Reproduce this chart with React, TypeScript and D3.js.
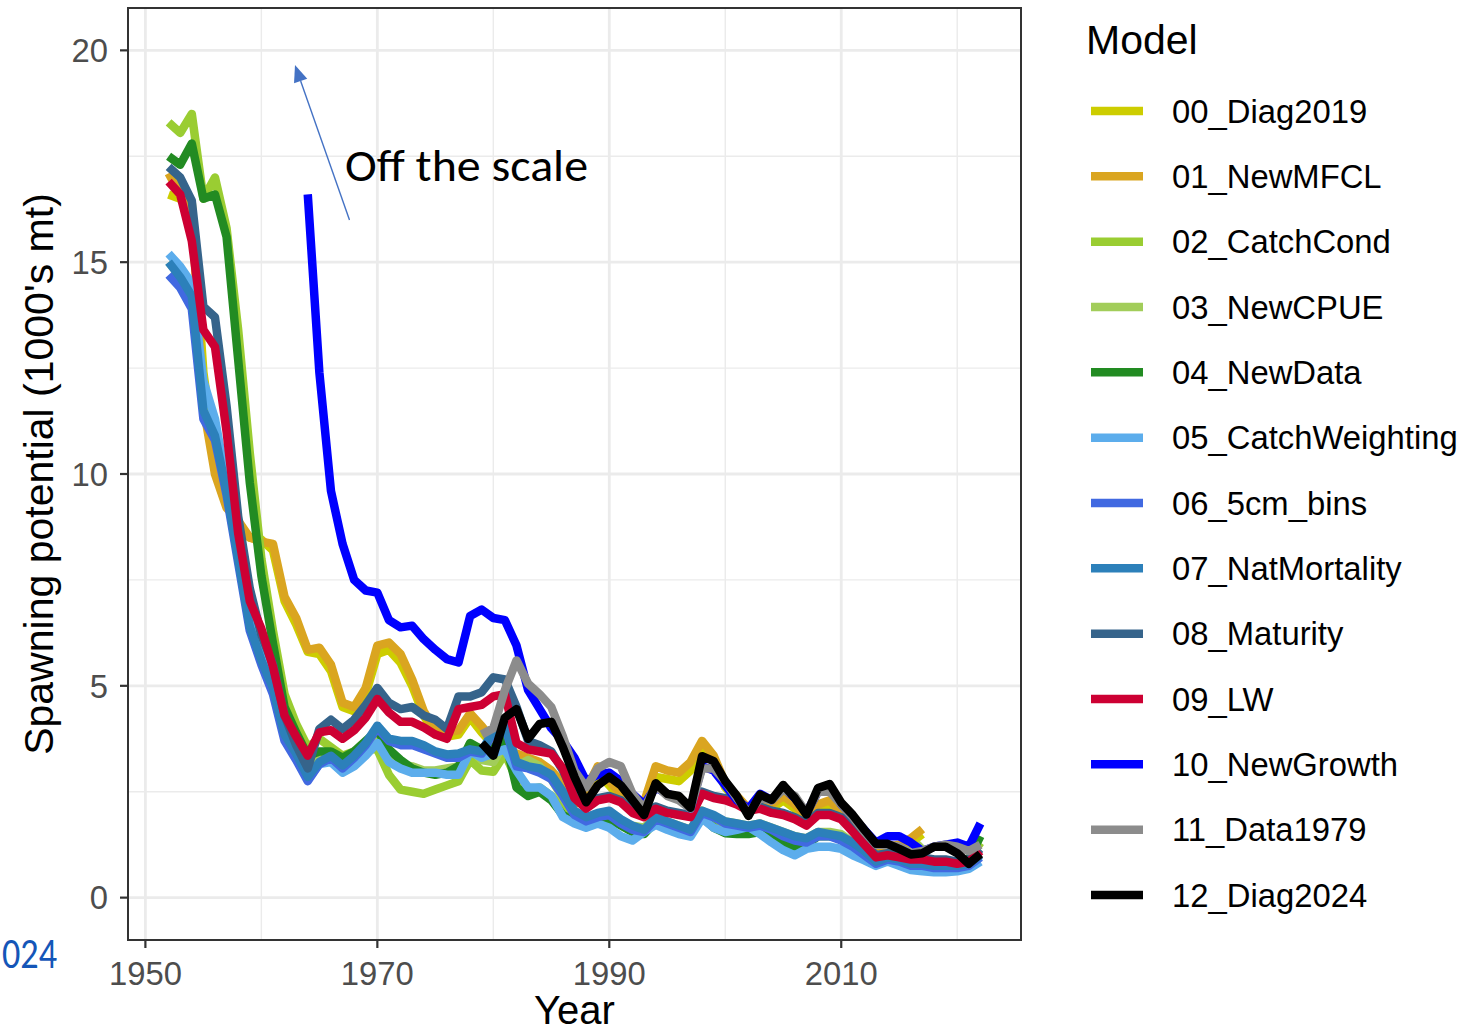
import React from 'react';
import * as d3 from 'd3';

// Spawning potential (1000's mt) by model run, 1952-2022
const years: number[] = d3.range(1952, 2023);

const modelNames = [
  '00_Diag2019', '01_NewMFCL', '02_CatchCond', '03_NewCPUE', '04_NewData',
  '05_CatchWeighting', '06_5cm_bins', '07_NatMortality', '08_Maturity',
  '09_LW', '10_NewGrowth', '11_Data1979', '12_Diag2024',
];

const modelColours = [
  '#CDCD00', '#DAA520', '#9ACD32', '#A2CD5A', '#228B22',
  '#5CADEC', '#4169E1', '#2C80BA', '#36648B',
  '#CD0033', '#0000FF', '#8C8C8C', '#000000',
];

const N = null;

const diag2019 = [16.6, 16.5, 16.4, 12.4, 10.4, 9.4, 8.7, 8.5, 8.45, 8.2,
  7.0, 6.45, 5.8, 5.75, 5.35, 4.5, 4.4, 4.8, 5.75, 5.85,
  5.55, 5.0, 4.3, 3.85, 3.8, 3.85, 4.25, 3.9, 3.6, 3.4,
  3.3, 3.2, 3.1, 2.9, 2.6, 2.2, 2.45, 2.95, 2.65, 2.35,
  2.1, 2.1, 2.85, 2.8, 2.75, 3.0, 3.5, 3.25, 2.6, 2.3,
  2.0, 2.2, 2.1, 2.3, 2.1, 1.8, 2.1, 2.2, 1.9, 1.6,
  1.4, 1.15, 1.15, 1.15, 1.3, 1.5, N, N, N, N,
  N];

const newMFCL = [17.1, 16.6, 16.2, 11.6, 10.0, 9.2, 8.9, 8.5, 8.4, 8.35,
  7.1, 6.6, 5.85, 5.9, 5.5, 4.6, 4.5, 4.95, 5.95, 6.02,
  5.75, 5.15, 4.4, 3.95, 3.9, 3.95, 4.35, 4.05, 3.7, 3.5,
  3.4, 3.3, 3.2, 3.0, 2.7, 2.3, 2.55, 3.1, 2.75, 2.45,
  2.2, 2.25, 3.1, 3.0, 2.95, 3.2, 3.7, 3.35, 2.7, 2.4,
  2.1, 2.3, 2.2, 2.4, 2.2, 1.9, 2.2, 2.3, 2.0, 1.7,
  1.45, 1.2, 1.2, 1.25, 1.4, 1.62, N, N, N, N,
  N];

const catchCond = [18.3, 18.05, 18.5, 16.5, 17.0, 15.8, 13.4, 10.5, 8.0, 6.3,
  4.8, 4.1, 3.55, 3.75, 3.55, 3.35, 3.45, 3.5, 3.5, 2.9,
  2.55, 2.5, 2.45, 2.55, 2.65, 2.75, 3.25, 3.0, 2.97, 3.4,
  2.8, 2.55, 2.6, 2.4, 2.1, 1.85, 1.8, 1.95, 1.9, 1.75,
  1.65, 1.6, 1.85, 1.75, 1.65, 1.6, 2.0, 1.85, 1.75, 1.7,
  1.65, 1.7, 1.6, 1.5, 1.4, 1.35, 1.5, 1.5, 1.45, 1.25,
  1.05, 0.9, 0.95, 0.9, 0.85, 0.85, 0.85, 0.85, 0.85, 0.9,
  1.3];

const newCPUE = [15.0, 14.7, 14.2, 11.8, 11.0, 9.8, 8.2, 6.6, 5.8, 5.0,
  3.9, 3.4, 2.95, 3.35, 3.45, 3.2, 3.35, 3.6, 3.9, 3.4,
  3.15, 3.1, 3.0, 3.0, 3.05, 3.1, 3.5, 3.25, 3.2, 3.65,
  3.1, 3.25, 3.1, 2.8, 2.35, 2.0, 1.85, 1.95, 1.95, 1.8,
  1.7, 1.65, 1.9, 1.8, 1.7, 1.6, 2.05, 1.9, 1.8, 1.75,
  1.7, 1.75, 1.65, 1.55, 1.45, 1.4, 1.55, 1.55, 1.5, 1.3,
  1.1, 0.9, 0.95, 0.95, 1.0, 1.28, N, N, N, N,
  N];

const newData = [17.5, 17.3, 17.8, 16.5, 16.6, 15.6, 12.7, 9.8, 7.6, 6.0,
  4.5, 3.9, 3.35, 3.45, 3.45, 3.3, 3.45, 3.7, 3.95, 3.5,
  3.25, 3.05, 2.95, 2.9, 2.95, 3.1, 3.65, 3.5, 3.55, 3.75,
  2.6, 2.4, 2.5, 2.3, 1.95, 1.8, 1.75, 1.9, 1.85, 1.7,
  1.55, 1.5, 1.8, 1.7, 1.6, 1.5, 1.9, 1.65, 1.52, 1.5,
  1.5, 1.55, 1.45, 1.3, 1.2, 1.25, 1.45, 1.45, 1.4, 1.2,
  1.0, 0.85, 0.9, 0.85, 0.8, 0.8, 0.8, 0.8, 0.8, 0.9,
  1.45];

const catchWeighting = [15.2, 14.9, 14.5, 12.2, 11.3, 9.8, 8.1, 6.5, 5.7, 4.9,
  3.8, 3.3, 2.8, 3.15, 3.2, 2.95, 3.1, 3.35, 3.65, 3.2,
  3.05, 2.95, 2.95, 2.95, 2.9, 2.9, 3.45, 3.3, 3.4, 3.5,
  3.0, 2.6, 2.6, 2.4, 1.9, 1.75, 1.65, 1.75, 1.65, 1.45,
  1.35, 1.55, 1.72, 1.6, 1.5, 1.44, 1.87, 1.65, 1.55, 1.6,
  1.67, 1.5, 1.3, 1.12, 1.0, 1.15, 1.2, 1.2, 1.15, 1.0,
  0.88, 0.75, 0.85, 0.75, 0.65, 0.62, 0.6, 0.6, 0.62, 0.68,
  0.85];

const bins5cm = [14.7, 14.4, 13.9, 11.3, 10.8, 9.5, 7.9, 6.3, 5.5, 4.8,
  3.7, 3.25, 2.75, 3.15, 3.3, 3.05, 3.3, 3.6, 4.0, 3.7,
  3.6, 3.6, 3.5, 3.4, 3.3, 3.3, 3.45, 3.4, 3.9, 4.05,
  3.1, 3.05, 2.95, 2.8, 2.4, 1.95, 1.8, 1.9, 1.95, 1.75,
  1.6, 1.55, 1.85, 1.75, 1.65, 1.55, 2.0, 1.9, 1.75, 1.7,
  1.65, 1.7, 1.6, 1.45, 1.35, 1.3, 1.45, 1.45, 1.35, 1.2,
  1.0, 0.8, 0.9, 0.85, 0.75, 0.75, 0.7, 0.7, 0.7, 0.75,
  0.95];

const natMortality = [15.0, 14.65, 14.2, 11.5, 10.9, 9.6, 8.0, 6.4, 5.6, 4.95,
  3.85, 3.4, 2.85, 3.2, 3.35, 3.12, 3.35, 3.65, 4.06, 3.75,
  3.7, 3.7, 3.6, 3.45, 3.38, 3.4, 3.5, 3.45, 3.95, 4.1,
  3.2, 3.1, 3.05, 2.9, 2.5, 2.05, 1.9, 2.0, 2.05, 1.85,
  1.7, 1.6, 1.9, 1.8, 1.7, 1.6, 2.05, 1.95, 1.8, 1.75,
  1.7, 1.75, 1.65, 1.55, 1.45, 1.4, 1.55, 1.5, 1.45, 1.3,
  1.1, 0.85, 0.95, 0.9, 0.8, 0.8, 0.75, 0.75, 0.75, 0.8,
  1.0];

const maturity = [17.25, 17.0, 16.45, 13.95, 13.7, 11.6, 9.0, 7.3, 6.2, 5.5,
  4.3, 3.6, 3.05, 3.98, 4.2, 3.98, 4.2, 4.55, 4.95, 4.6,
  4.45, 4.5, 4.3, 4.2, 3.98, 4.75, 4.75, 4.85, 5.2, 5.15,
  4.5, 3.7, 3.6, 3.45, 3.0, 2.4, 2.15, 2.35, 2.4, 2.3,
  2.05, 1.95, 2.15, 2.05, 2.0, 1.95, 2.5, 2.4, 2.35, 2.25,
  2.1, 2.15, 2.05, 2.0, 1.9, 1.75, 2.0, 2.0, 1.9, 1.6,
  1.3, 1.0, 1.05, 1.0, 0.95, 0.95, 0.9, 0.9, 0.85, 0.9,
  1.15];

const lengthWeight = [16.9, 16.6, 15.5, 13.4, 13.0, 11.0, 8.6, 7.0, 6.35, 5.45,
  4.3, 3.8, 3.35, 3.9, 3.95, 3.75, 3.95, 4.25, 4.69, 4.37,
  4.15, 4.15, 4.02, 3.85, 3.75, 4.45, 4.5, 4.55, 4.75, 4.8,
  3.65, 3.5, 3.45, 3.4, 3.05, 2.35, 2.1, 2.3, 2.35, 2.25,
  2.0, 1.9, 2.1, 2.0, 1.95, 1.9, 2.45, 2.35, 2.3, 2.2,
  2.05, 2.1, 2.0, 1.95, 1.85, 1.7, 1.95, 1.95, 1.85, 1.55,
  1.25, 0.95, 1.0, 0.95, 0.9, 0.9, 0.85, 0.85, 0.8, 0.85,
  1.1];

const newGrowth = [N, N, N, N, N, N, N, N, N, N,
  N, N, 16.6, 12.4, 9.6, 8.35, 7.5, 7.25, 7.2, 6.55,
  6.38, 6.42, 6.1, 5.85, 5.63, 5.55, 6.65, 6.8, 6.6, 6.55,
  5.95, 4.9, 4.45, 4.0, 3.7, 3.3, 2.75, 2.9, 2.95, 2.75,
  2.45, 2.2, 2.6, 2.45, 2.35, 2.1, 3.1, 3.0, 2.65, 2.3,
  2.1, 2.45, 2.3, 2.6, 2.35, 2.0, 2.5, 2.65, 2.2, 1.9,
  1.6, 1.3, 1.45, 1.45, 1.3, 1.1, 1.2, 1.25, 1.3, 1.2,
  1.75];

const data1979 = [N, N, N, N, N, N, N, N, N, N,
  N, N, N, N, N, N, N, N, N, N,
  N, N, N, N, N, N, N, 3.85, 4.0, 4.9,
  5.6, 5.05, 4.8, 4.5, 3.8, 3.0, 2.6, 3.05, 3.2, 3.1,
  2.45, 2.1, 2.65, 2.4, 2.3, 2.1, 3.05, 3.05, 2.75, 2.35,
  2.0, 2.35, 2.3, 2.55, 2.4, 2.0, 2.5, 2.5, 2.2, 1.9,
  1.55, 1.25, 1.25, 1.2, 1.05, 1.1, 1.2, 1.25, 1.2, 1.1,
  1.25];

const diag2024 = [N, N, N, N, N, N, N, N, N, N,
  N, N, N, N, N, N, N, N, N, N,
  N, N, N, N, N, N, N, 3.65, 3.35, 4.25,
  4.45, 3.75, 4.1, 4.15, 3.55, 2.85, 2.25, 2.65, 2.85, 2.65,
  2.3, 1.95, 2.7, 2.45, 2.4, 2.12, 3.34, 3.22, 2.75, 2.4,
  1.93, 2.43, 2.31, 2.66, 2.35, 1.96, 2.59, 2.68, 2.24, 1.95,
  1.6, 1.27, 1.27, 1.15, 1.02, 1.05, 1.2, 1.2, 1.05, 0.8,
  1.03];

const seriesValues: (number | null)[][] = [
  diag2019, newMFCL, catchCond, newCPUE, newData, catchWeighting, bins5cm,
  natMortality, maturity, lengthWeight, newGrowth, data1979, diag2024,
];

const xMajorTicks = [1950, 1970, 1990, 2010];
const xMinorTicks = [1960, 1980, 2000, 2020];
const yMajorTicks = [0, 5, 10, 15, 20];
const yMinorTicks = [2.5, 7.5, 12.5, 17.5];

const W = 1473;
const H = 1032;
const panel = { left: 128, right: 1021, top: 8, bottom: 940 };
const FONT = '"Liberation Sans", Arial, Helvetica, sans-serif';
const NOTE_FONT = 'Carlito, Lato, "Open Sans", sans-serif';

export default function App() {
  const x = d3.scaleLinear().domain([1948.5, 2025.5]).range([panel.left, panel.right]);
  const y = d3.scaleLinear().domain([-1, 21]).range([panel.bottom, panel.top]);

  const line = d3
    .line<[number, number | null]>()
    .defined((d) => d[1] != null)
    .x((d) => x(d[0]))
    .y((d) => y(d[1] as number));

  const legendTop = 111;
  const legendStep = 65.33;

  // Annotation arrow pointing up out of the panel
  const tail: [number, number] = [349.5, 220];
  const tip: [number, number] = [295, 65];
  const dx = tip[0] - tail[0];
  const dy = tip[1] - tail[1];
  const len = Math.hypot(dx, dy);
  const ux = dx / len;
  const uy = dy / len;
  const headLen = 17;
  const headHalf = 7;
  const bx = tip[0] - ux * headLen;
  const by = tip[1] - uy * headLen;
  const head = [
    [tip[0], tip[1]],
    [bx - uy * headHalf, by + ux * headHalf],
    [bx + uy * headHalf, by - ux * headHalf],
  ]
    .map((p) => p.join(','))
    .join(' ');

  return (
    <svg
      width={W}
      height={H}
      viewBox={`0 0 ${W} ${H}`}
      style={{ position: 'absolute', left: 0, top: 0, background: '#ffffff' }}
    >
      <defs>
        <clipPath id="panel-clip">
          <rect
            x={panel.left}
            y={panel.top}
            width={panel.right - panel.left}
            height={panel.bottom - panel.top}
          />
        </clipPath>
      </defs>
      <rect x={0} y={0} width={W} height={H} fill="#ffffff" />

      {/* grid */}
      <g stroke="#EBEBEB" fill="none">
        {xMinorTicks.map((t) => (
          <line key={`xm${t}`} x1={x(t)} x2={x(t)} y1={panel.top} y2={panel.bottom} strokeWidth={1.4} />
        ))}
        {yMinorTicks.map((t) => (
          <line key={`ym${t}`} x1={panel.left} x2={panel.right} y1={y(t)} y2={y(t)} strokeWidth={1.4} />
        ))}
        {xMajorTicks.map((t) => (
          <line key={`xM${t}`} x1={x(t)} x2={x(t)} y1={panel.top} y2={panel.bottom} strokeWidth={2.8} />
        ))}
        {yMajorTicks.map((t) => (
          <line key={`yM${t}`} x1={panel.left} x2={panel.right} y1={y(t)} y2={y(t)} strokeWidth={2.8} />
        ))}
      </g>

      {/* series */}
      <g clipPath="url(#panel-clip)" fill="none" strokeLinejoin="round" strokeLinecap="butt">
        {seriesValues.map((vals, i) => (
          <path
            key={modelNames[i]}
            d={line(years.map((yr, j) => [yr, vals[j]] as [number, number | null])) || ''}
            stroke={modelColours[i]}
            strokeWidth={8.5}
          />
        ))}
      </g>

      {/* panel border */}
      <rect
        x={panel.left}
        y={panel.top}
        width={panel.right - panel.left}
        height={panel.bottom - panel.top}
        fill="none"
        stroke="#333333"
        strokeWidth={2}
      />

      {/* x axis */}
      <g>
        {xMajorTicks.map((t) => (
          <g key={`xt${t}`}>
            <line x1={x(t)} x2={x(t)} y1={panel.bottom} y2={panel.bottom + 8} stroke="#333333" strokeWidth={2.2} />
            <text
              x={x(t)}
              y={985}
              textAnchor="middle"
              fontFamily={FONT}
              fontSize={32.8}
              fill="#4D4D4D"
            >
              {t}
            </text>
          </g>
        ))}
        <text x={(panel.left + panel.right) / 2} y={1024} textAnchor="middle" fontFamily={FONT} fontSize={40} fill="#000000">
          Year
        </text>
      </g>

      {/* y axis */}
      <g>
        {yMajorTicks.map((t) => (
          <g key={`yt${t}`}>
            <line x1={panel.left - 8} x2={panel.left} y1={y(t)} y2={y(t)} stroke="#333333" strokeWidth={2.2} />
            <text
              x={panel.left - 20}
              y={y(t)}
              dy="0.36em"
              textAnchor="end"
              fontFamily={FONT}
              fontSize={32.8}
              fill="#4D4D4D"
            >
              {t}
            </text>
          </g>
        ))}
        <text
          transform={`translate(53, ${(panel.top + panel.bottom) / 2}) rotate(-90)`}
          textAnchor="middle"
          fontFamily={FONT}
          fontSize={41}
          fill="#000000"
        >
          Spawning potential (1000's mt)
        </text>
      </g>

      {/* legend */}
      <g>
        <text x={1086} y={54} fontFamily={FONT} fontSize={41} fill="#000000">
          Model
        </text>
        {modelNames.map((name, i) => {
          const cy = legendTop + i * legendStep;
          return (
            <g key={`lg${name}`}>
              <line x1={1091} x2={1143} y1={cy} y2={cy} stroke={modelColours[i]} strokeWidth={8.5} />
              <text x={1172} y={cy} dy="0.36em" fontFamily={FONT} fontSize={32.8} fill="#000000">
                {name}
              </text>
            </g>
          );
        })}
      </g>

      {/* annotation */}
      <g>
        <line x1={tail[0]} y1={tail[1]} x2={bx} y2={by} stroke="#4472C4" strokeWidth={1.4} />
        <polygon points={head} fill="#4472C4" />
        <text
          x={345}
          y={181}
          fontFamily={NOTE_FONT}
          fontSize={45}
          textLength={243}
          lengthAdjust="spacingAndGlyphs"
          fill="#000000"
        >
          Off the scale
        </text>
      </g>

      {/* slide footer fragment */}
      <text
        x={2}
        y={968}
        fontFamily={NOTE_FONT}
        fontSize={44}
        textLength={55}
        lengthAdjust="spacingAndGlyphs"
        fill="#1456B8"
      >
        024
      </text>
    </svg>
  );
}
